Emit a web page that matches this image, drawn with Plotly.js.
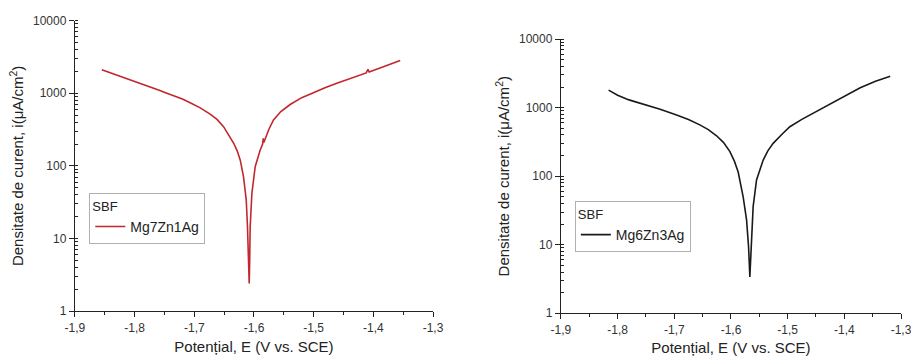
<!DOCTYPE html>
<html>
<head>
<meta charset="utf-8">
<script src="https://cdn.plot.ly/plotly-3.0.1.min.js"></script>
<style>html,body{margin:0;padding:0;background:#fff;}#chart{width:911px;height:356px;}</style>
</head>
<body>
<div id="chart"></div>
<script>
// Left panel: Mg7Zn1Ag in SBF
const potentialA = [-1.855, -1.84, -1.82, -1.80, -1.78, -1.76, -1.746, -1.73, -1.72, -1.707, -1.69, -1.673, -1.662, -1.651, -1.643, -1.634, -1.628, -1.623, -1.6176, -1.613, -1.6109, -1.6092, -1.608, -1.6072, -1.6064, -1.6035, -1.598, -1.5896, -1.5855, -1.5845, -1.5835, -1.575, -1.5673, -1.555, -1.5394, -1.52, -1.50, -1.48, -1.46, -1.44, -1.4276, -1.412, -1.409, -1.407, -1.39, -1.37, -1.355];
const currentA = [2100, 1905, 1680, 1462, 1274, 1109, 1000, 902, 832, 740, 630, 513, 436, 347, 275, 205, 160, 120, 71, 34, 14.5, 5, 2.4, 5, 14.5, 42, 97.5, 166, 200, 240, 210, 320, 429, 560, 700, 870, 1030, 1200, 1380, 1574, 1718, 1905, 2130, 1960, 2213, 2541, 2831];
// Right panel: Mg6Zn3Ag in SBF
const potentialB = [-1.816, -1.80, -1.78, -1.755, -1.725, -1.696, -1.675, -1.655, -1.64, -1.6254, -1.613, -1.6019, -1.594, -1.5873, -1.5825, -1.5785, -1.5725, -1.569, -1.5667, -1.5637, -1.5609, -1.5549, -1.5432, -1.535, -1.5256, -1.51, -1.4961, -1.475, -1.455, -1.435, -1.419, -1.395, -1.372, -1.345, -1.319];
const currentB = [1804, 1520, 1300, 1128, 950, 780, 670, 562, 479, 389, 309, 229, 166, 115, 75, 50, 23, 9.4, 3.4, 11.7, 36, 88, 172, 235, 302, 410, 527, 676, 832, 1023, 1202, 1549, 1950, 2427, 2884];

const seriesNames = ['Mg7Zn1Ag', 'Mg6Zn3Ag'];
const legendTitle = 'SBF';
const xTickVals = [-1.9, -1.8, -1.7, -1.6, -1.5, -1.4, -1.3];
const xTickText = ['-1,9', '-1,8', '-1,7', '-1,6', '-1,5', '-1,4', '-1,3'];
const yTickVals = [1, 10, 100, 1000, 10000];
const yTickText = ['1', '10', '100', '1000', '10000'];
const xTitle = 'Potențial, E (V vs. SCE)';
const yTitle = 'Densitate de curent, i(μA/cm<sup>2</sup>)';

const FONT = 'Liberation Sans, Arial, sans-serif';

const traces = [
  {x: potentialA, y: currentA, type: 'scatter', mode: 'lines', name: seriesNames[0],
   line: {color: '#c1272d', width: 1.6}, xaxis: 'x', yaxis: 'y', legend: 'legend'},
  {x: potentialB, y: currentB, type: 'scatter', mode: 'lines', name: seriesNames[1],
   line: {color: '#1a1a1a', width: 1.6}, xaxis: 'x2', yaxis: 'y2', legend: 'legend2'}
];

function xAxis(domain, anchor) {
  return {
    domain: domain, anchor: anchor, range: [-1.9, -1.3],
    tickmode: 'array', tickvals: xTickVals, ticktext: xTickText,
    ticks: 'outside', ticklen: 5, tickwidth: 1, tickcolor: '#222',
    showline: true, linecolor: '#222', linewidth: 1.2, showgrid: false, zeroline: false,
    tickfont: {family: FONT, size: 12, color: '#333'}, ticklabeloverflow: 'allow',
    minor: {ticks: 'outside', ticklen: 3, tickcolor: '#222', dtick: 0.05, tick0: -1.9, showgrid: false},
    title: {text: xTitle, font: {family: FONT, size: 15, color: '#222'}, standoff: 7}
  };
}
function yAxis(domain, anchor) {
  return {
    domain: domain, anchor: anchor, type: 'log', range: [0, 4],
    tickmode: 'array', tickvals: yTickVals, ticktext: yTickText,
    ticks: 'outside', ticklen: 5, tickwidth: 1, tickcolor: '#222',
    showline: true, linecolor: '#222', linewidth: 1.2, showgrid: false, zeroline: false,
    tickfont: {family: FONT, size: 12, color: '#333'},
    minor: {ticks: 'inside', ticklen: 3, tickcolor: '#222', dtick: 'D1', showgrid: false},
    title: {text: yTitle, font: {family: FONT, size: 15, color: '#222'}, standoff: 5}
  };
}

function legendBox(x, y) {
  return {x: x, y: y, xanchor: 'left', yanchor: 'top',
    bgcolor: '#fff', bordercolor: '#b0b0b0', borderwidth: 1,
    title: {text: legendTitle, font: {family: FONT, size: 13, color: '#222'}},
    font: {family: FONT, size: 14, color: '#222'}, itemwidth: 30};
}

const layout = {
  width: 911, height: 356,
  margin: {l: 0, r: 10, t: 0, b: 0},
  paper_bgcolor: '#fff', plot_bgcolor: '#fff',
  showlegend: true,
  xaxis: xAxis([0.0832, 0.4806], 'y'),
  yaxis: yAxis([0.126, 0.942], 'x'),
  xaxis2: xAxis([0.6226, 1.0], 'y2'),
  yaxis2: yAxis([0.120, 0.890], 'x2'),
  legend: legendBox(0.0991, 0.458),
  legend2: legendBox(0.638, 0.435)
};

Plotly.newPlot('chart', traces, layout, {displayModeBar: false, staticPlot: true});
</script>
</body>
</html>
